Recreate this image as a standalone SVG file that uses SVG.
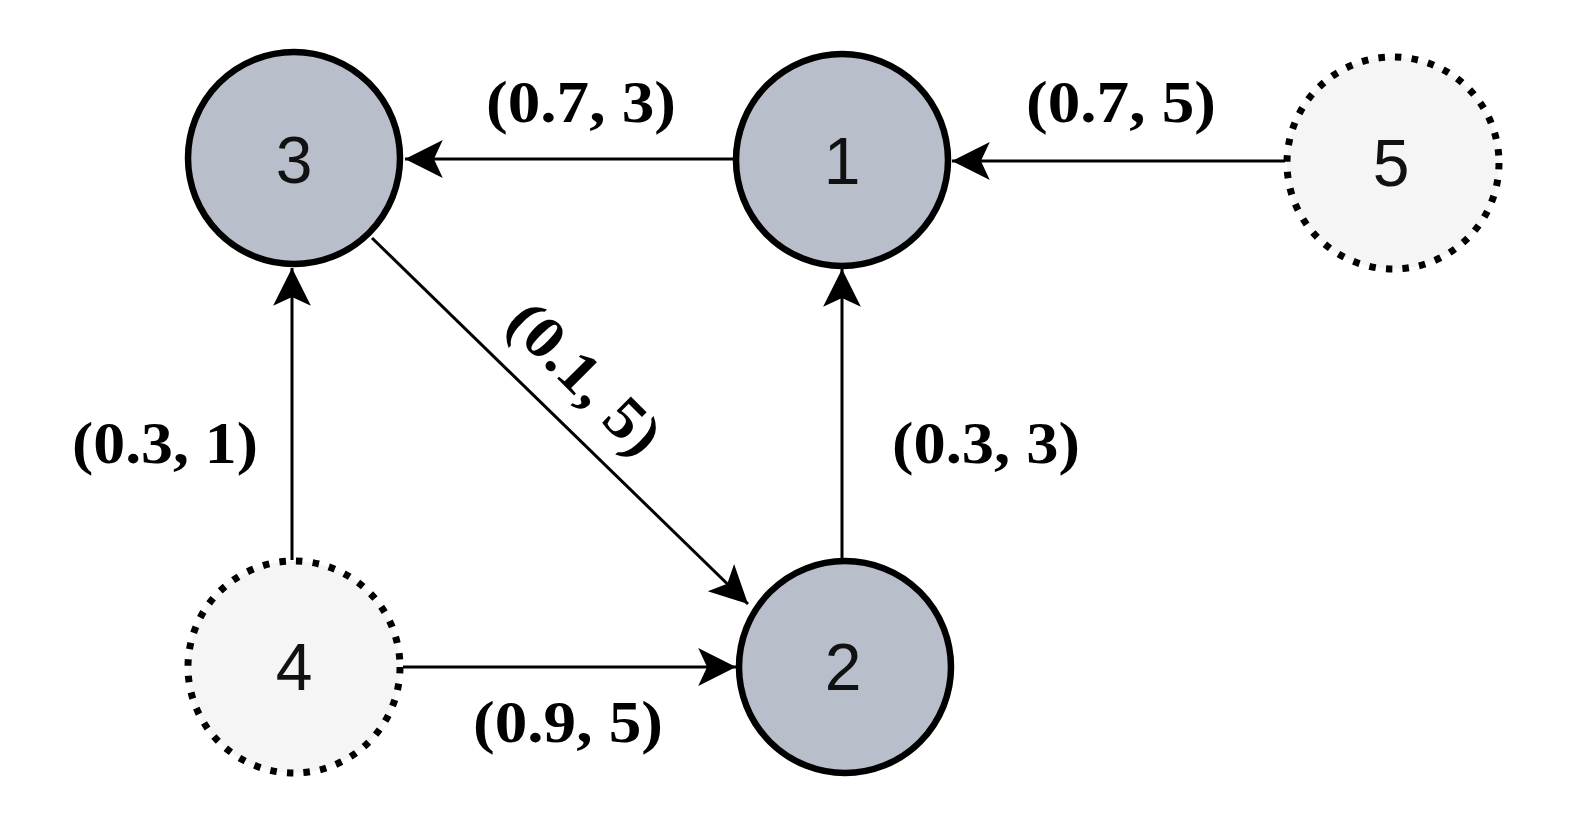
<svg xmlns="http://www.w3.org/2000/svg" width="1571" height="824" viewBox="0 0 1571 824">
<style>
.solid{fill:#b9becb;stroke:#000;stroke-width:6.5}
.dot{fill:#f5f5f5;stroke:#000;stroke-width:7;stroke-dasharray:6.5 10.2}
.num{font-family:"Liberation Sans",Arial,sans-serif;font-size:66px;text-anchor:middle;fill:#111}
.lbl{font-family:"Liberation Serif","Times New Roman",serif;font-weight:bold;font-size:60px;text-anchor:middle;fill:#000}
.edge{stroke:#000;stroke-width:3;fill:none;marker-end:url(#arr)}
</style>
<defs>
<marker id="arr" markerUnits="userSpaceOnUse" markerWidth="40" markerHeight="40" viewBox="0 0 36 36" refX="34" refY="18" orient="auto">
<path d="M0,1 L34,18 L0,35 L8,18 Z" fill="#000"/>
</marker>
</defs>
<rect width="1571" height="824" fill="#fff"/>
<g id="connectors">
<line class="edge" x1="735" y1="159" x2="405" y2="159"/>
<line class="edge" x1="1285" y1="161" x2="952" y2="161"/>
<line class="edge" x1="842" y1="560" x2="842" y2="269"/>
<line class="edge" x1="292" y1="560" x2="292" y2="268"/>
<line class="edge" x1="403" y1="667" x2="736" y2="667"/>
<line class="edge" x1="372" y1="238" x2="748" y2="604"/>
</g>
<g id="labels">
<text class="lbl" x="581" y="122" textLength="190" lengthAdjust="spacingAndGlyphs">(0.7, 3)</text>
<text class="lbl" x="1121" y="122" textLength="190" lengthAdjust="spacingAndGlyphs">(0.7, 5)</text>
<text class="lbl" x="165" y="463" textLength="186" lengthAdjust="spacingAndGlyphs">(0.3, 1)</text>
<text class="lbl" x="986" y="463" textLength="188" lengthAdjust="spacingAndGlyphs">(0.3, 3)</text>
<text class="lbl" x="568" y="742" textLength="190" lengthAdjust="spacingAndGlyphs">(0.9, 5)</text>
<text class="lbl" transform="translate(585,378) rotate(45)" x="0" y="20" textLength="190" lengthAdjust="spacingAndGlyphs">(0.1, 5)</text>
</g>
<g id="node3"><circle class="solid" cx="294" cy="158" r="106"/><text class="num" x="294" y="183">3</text></g>
<g id="node1"><circle class="solid" cx="842" cy="160" r="106"/><text class="num" x="842" y="184">1</text></g>
<g id="node5"><circle class="dot" cx="1393" cy="163" r="106"/><text class="num" x="1391" y="186">5</text></g>
<g id="node4"><circle class="dot" cx="294" cy="667" r="106"/><text class="num" x="294" y="690">4</text></g>
<g id="node2"><circle class="solid" cx="845" cy="667" r="106"/><text class="num" x="843" y="690">2</text></g>
</svg>
